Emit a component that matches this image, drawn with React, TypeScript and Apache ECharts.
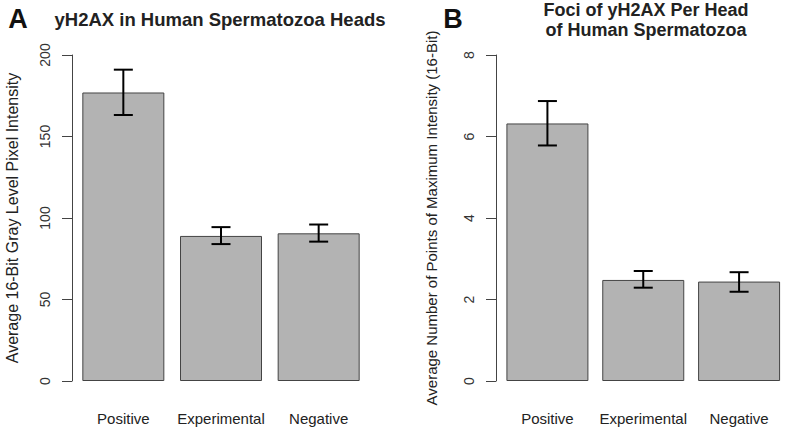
import React, { useEffect, useRef } from "react";
import * as echarts from "echarts";

const categories = ["Positive", "Experimental", "Negative"];
const intensityMean = [177, 89, 90.6];
const intensityLower = [163.2, 84, 85.5];
const intensityUpper = [191, 94.4, 96];
const fociMean = [6.32, 2.48, 2.44];
const fociLower = [5.78, 2.29, 2.19];
const fociUpper = [6.87, 2.7, 2.67];

const FONT = '"Liberation Sans", Arial, Helvetica, sans-serif';

function errorRender(params: any, api: any) {
  const x = api.value(0);
  const lo = api.coord([x, api.value(1)]);
  const hi = api.coord([x, api.value(2)]);
  const hw = 9.5;
  const style = { stroke: "#000", lineWidth: 2 };
  return {
    type: "group",
    children: [
      { type: "line", shape: { x1: lo[0], y1: lo[1], x2: hi[0], y2: hi[1] }, style },
      { type: "line", shape: { x1: hi[0] - hw, y1: hi[1], x2: hi[0] + hw, y2: hi[1] }, style },
      { type: "line", shape: { x1: lo[0] - hw, y1: lo[1], x2: lo[0] + hw, y2: lo[1] }, style },
    ],
  };
}

export default function App() {
  const ref = useRef<HTMLDivElement>(null);
  useEffect(() => {
    document.body.style.margin = "0";
    const chart = echarts.init(ref.current!, null, { renderer: "svg" });
    const yAxisCommon = (max: number, interval: number, offset: number, name: string, nameGap: number, nameSize: number) => ({
      type: "value",
      min: 0,
      max,
      interval,
      offset,
      name,
      nameLocation: "middle",
      nameGap,
      nameTextStyle: { fontFamily: FONT, fontSize: nameSize, color: "#222" },
      axisLine: { show: true, lineStyle: { color: "#444", width: 1 } },
      axisTick: { show: true, length: 10, lineStyle: { color: "#444", width: 1 } },
      axisLabel: { rotate: 90, margin: 20, fontFamily: FONT, fontSize: 14, color: "#333" },
      splitLine: { show: false },
    });
    const xAxisCommon = (gridIndex: number) => ({
      type: "category",
      gridIndex,
      data: categories,
      axisLine: { show: false },
      axisTick: { show: false },
      axisLabel: { interval: 0, margin: 30, fontFamily: FONT, fontSize: 15, color: "#222" },
    });
    chart.setOption({
      animation: false,
      backgroundColor: "#fff",
      grid: [
        { left: 74.5, top: 55, width: 293, height: 326 },
        { left: 499.5, top: 55, width: 293, height: 326 },
      ],
      xAxis: [xAxisCommon(0), xAxisCommon(1)],
      yAxis: [
        { ...yAxisCommon(200, 50, 2.5, "Average 16-Bit Gray Level Pixel Intensity", 52, 16), gridIndex: 0 },
        { ...yAxisCommon(8, 2, 3.5, "Average Number of Points of Maximum Intensity (16-Bit)", 57, 15), gridIndex: 1 },
      ],
      series: [
        {
          type: "bar",
          xAxisIndex: 0,
          yAxisIndex: 0,
          data: intensityMean,
          barWidth: 82,
          itemStyle: { color: "#b3b3b3", borderColor: "#444", borderWidth: 1 },
        },
        {
          type: "custom",
          xAxisIndex: 0,
          yAxisIndex: 0,
          data: categories.map((_, i) => [i, intensityLower[i], intensityUpper[i]]),
          renderItem: errorRender,
          z: 10,
        },
        {
          type: "bar",
          xAxisIndex: 1,
          yAxisIndex: 1,
          data: fociMean,
          barWidth: 82,
          itemStyle: { color: "#b3b3b3", borderColor: "#444", borderWidth: 1 },
        },
        {
          type: "custom",
          xAxisIndex: 1,
          yAxisIndex: 1,
          data: categories.map((_, i) => [i, fociLower[i], fociUpper[i]]),
          renderItem: errorRender,
          z: 10,
        },
      ],
      graphic: [
        { type: "text", x: 18, y: 19, style: { text: "A", font: `bold 27px ${FONT}`, fill: "#111", textAlign: "center", textVerticalAlign: "middle" } },
        { type: "text", x: 220, y: 19, style: { text: "yH2AX in Human Spermatozoa Heads", font: `bold 18.5px ${FONT}`, fill: "#222", textAlign: "center", textVerticalAlign: "middle" } },
        { type: "text", x: 453, y: 19, style: { text: "B", font: `bold 27px ${FONT}`, fill: "#111", textAlign: "center", textVerticalAlign: "middle" } },
        { type: "text", x: 646, y: 10, style: { text: "Foci of yH2AX Per Head", font: `bold 18px ${FONT}`, fill: "#222", textAlign: "center", textVerticalAlign: "middle" } },
        { type: "text", x: 646, y: 30, style: { text: "of Human Spermatozoa", font: `bold 18px ${FONT}`, fill: "#222", textAlign: "center", textVerticalAlign: "middle" } },
      ],
    });
    return () => chart.dispose();
  }, []);
  return <div ref={ref} style={{ width: 787, height: 428, position: "absolute", left: 0, top: 0 }} />;
}
